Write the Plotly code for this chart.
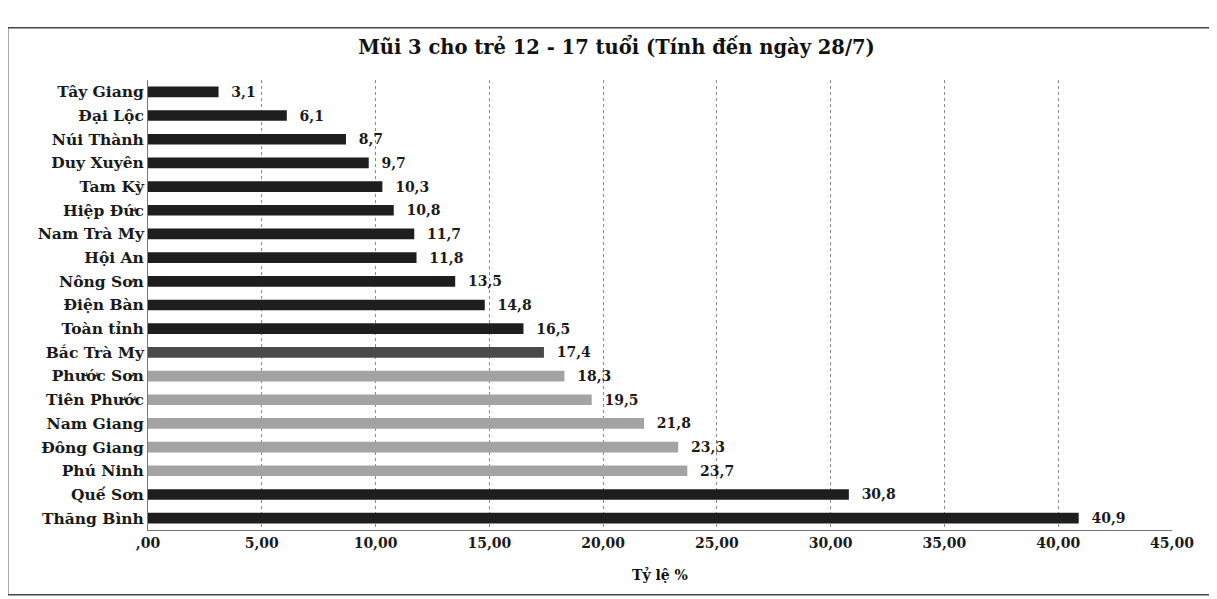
import plotly.graph_objects as go

districts = ["Tây Giang", "Đại Lộc", "Núi Thành", "Duy Xuyên", "Tam Kỳ", "Hiệp Đức",
             "Nam Trà My", "Hội An", "Nông Sơn", "Điện Bàn", "Toàn tỉnh", "Bắc Trà My",
             "Phước Sơn", "Tiên Phước", "Nam Giang", "Đông Giang", "Phú Ninh", "Quế Sơn",
             "Thăng Bình"]
rates = [3.1, 6.1, 8.7, 9.7, 10.3, 10.8, 11.7, 11.8, 13.5, 14.8, 16.5, 17.4,
         18.3, 19.5, 21.8, 23.3, 23.7, 30.8, 40.9]
groups = ["dark"] * 11 + ["mid"] + ["light"] * 5 + ["dark"] * 2
x_tick_values = [0, 5, 10, 15, 20, 25, 30, 35, 40, 45]
x_tick_labels = [",00", "5,00", "10,00", "15,00", "20,00", "25,00", "30,00", "35,00", "40,00", "45,00"]

color_map = {"dark": "#1e1e1e", "mid": "#4a4a4a", "light": "#a3a3a3"}
colors = [color_map[g] for g in groups]

FONT = "DejaVu Serif"

fig = go.Figure(go.Bar(
    x=rates, y=districts, orientation="h",
    marker=dict(color=colors, line=dict(width=0)),
    texttemplate="  %{x:.1f}", textposition="outside",
    constraintext="none",
    textfont=dict(family=FONT, size=14, color="#1a1a1a", weight="bold"),
    cliponaxis=False,
))

fig.update_layout(
    width=1217, height=599,
    separators=",.",
    paper_bgcolor="white", plot_bgcolor="white",
    margin=dict(l=140, r=53, t=72, b=77),
    showlegend=False,
    bargap=0.55,
    title=dict(text="Mũi 3 cho trẻ 12 - 17 tuổi (Tính đến ngày 28/7)",
               x=0.5, xanchor="center", y=0.935, yanchor="middle",
               font=dict(family=FONT, size=19.5, color="#111", weight="bold")),
    font=dict(family=FONT, color="#111"),
)

fig.update_xaxes(
    range=[0, 45], tickvals=x_tick_values, ticktext=x_tick_labels,
    tickfont=dict(family=FONT, size=14, color="#1a1a1a", weight="bold"),
    showgrid=True, gridcolor="#8a8a8a", griddash="dot", gridwidth=1,
    showline=True, linecolor="#777", linewidth=1,
    zeroline=False,
    title=dict(text="Tỷ lệ %", font=dict(family=FONT, size=14, color="#111", weight="bold"), standoff=20),
)
fig.update_yaxes(
    autorange="reversed",
    tickfont=dict(family=FONT, size=15.5, color="#1a1a1a", weight="bold"),
    showline=True, linecolor="#777", linewidth=1,
    ticks="", showgrid=False,
)

# outer chart border
fig.add_shape(type="rect", xref="paper", yref="paper",
              x0=-0.137, x1=1.037, y0=-0.144, y1=1.116,
              line=dict(color="#444", width=1.5), fillcolor="rgba(0,0,0,0)", layer="below")

fig.write_html("out.html")
